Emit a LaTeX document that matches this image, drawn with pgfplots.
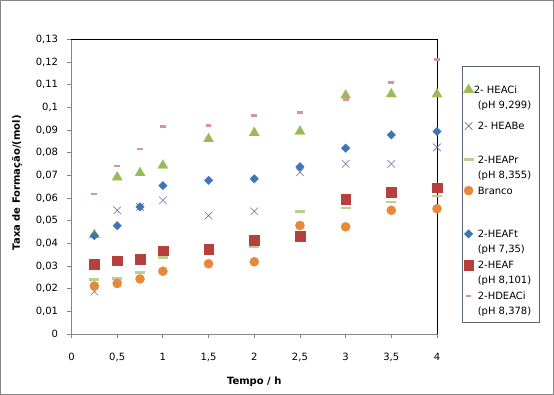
\documentclass[border=0pt]{standalone}
\usepackage{fontspec}
\setmainfont{DejaVu Sans}
\usepackage{pgfplots}
\pgfplotsset{compat=1.18}
\usepackage{pgfplotstable}
\definecolor{cHEACi}{RGB}{155,187,89}
\definecolor{cHEABe}{RGB}{128,100,162}
\definecolor{cHEAPr}{RGB}{184,208,146}
\definecolor{cBranco}{RGB}{232,137,58}
\definecolor{cHEAFt}{RGB}{64,116,184}
\definecolor{cHEAF}{RGB}{184,64,60}
\definecolor{cHDEACi}{RGB}{214,150,150}
\definecolor{axgray}{RGB}{134,134,134}
\definecolor{leggray}{RGB}{90,100,115}

\pgfplotstableread{
x HEACi HEABe HEAPr Branco HEAFt HEAF HDEACi
0.25 0.0438 0.0187 0.0242 0.0212 0.0434 0.0308 0.0618
0.5 0.0692 0.0546 0.0246 0.0223 0.0478 0.0324 0.0742
0.75 0.0711 0.0561 0.0273 0.0243 0.0561 0.0330 0.0817
1 0.0744 0.0590 0.0338 0.0277 0.0655 0.0369 0.0915
1.5 0.0861 0.0523 0.0370 0.0310 0.0678 0.0376 0.0920
2 0.0888 0.0542 0.0386 0.0319 0.0685 0.0416 0.0966
2.5 0.0894 0.0714 0.0539 0.0479 0.0738 0.0432 0.0977
3 0.1053 0.0751 0.0556 0.0473 0.0820 0.0597 0.1035
3.5 0.1059 0.0751 0.0583 0.0546 0.0879 0.0628 0.1109
4 0.1059 0.0824 0.0609 0.0553 0.0894 0.0647 0.1211
}\data

\newcommand{\LE}[1]{\begin{tabular}[t]{@{}p{60pt}@{}}#1\end{tabular}}

\begin{document}
\fontsize{10}{15.5}\selectfont
\begin{tikzpicture}
\begin{axis}[
  scale only axis, width=365.5pt, height=294.5pt,
  xmin=0, xmax=4, ymin=0, ymax=0.13,
  clip=false,
  xtick={0,0.5,1,1.5,2,2.5,3,3.5,4},
  ytick={0,0.01,0.02,0.03,0.04,0.05,0.06,0.07,0.08,0.09,0.1,0.11,0.12,0.13},
  scaled y ticks=false, scaled x ticks=false,
  tick align=outside, major tick length=4pt,
  xtick pos=left, ytick pos=left,
  axis line style={axgray, line width=0.8pt},
  tick style={axgray, line width=0.8pt},
  /pgf/number format/use comma,
  /pgf/number format/fixed,
  /pgf/number format/assume math mode=true,
  tick label style={font=\fontsize{10}{12}\selectfont},
  xticklabel style={yshift=-11.7pt},
  yticklabel style={xshift=-5.9pt},
  xlabel={Tempo / h}, ylabel={Taxa de Formação/(mol)},
  every axis x label/.style={at={(axis description cs:0.5,0)}, anchor=center, yshift=-47.7pt, font=\bfseries\fontsize{10}{12}\selectfont},
  every axis y label/.style={at={(axis description cs:0,0.5)}, anchor=center, rotate=90, yshift=54.5pt, xshift=4pt, font=\bfseries\fontsize{10}{12}\selectfont},
  legend style={at={(axis description cs:1,1)}, anchor=north west, xshift=24.5pt, yshift=-26.5pt,
    draw=leggray, line width=0.8pt, inner xsep=1.5pt, inner ysep=3pt,
    font=\fontsize{10}{15.5}\selectfont,
    cells={anchor=base west}, nodes={inner sep=0pt, text depth=}, column sep=4pt, row sep=0pt},
  every axis plot/.append style={only marks, legend image code/.code={\draw[##1] plot coordinates {(0pt,3.6pt)};}},
]
\draw[black, line width=0.8pt] (rel axis cs:0,1) -- (rel axis cs:1,1) -- (rel axis cs:1,0);
\addplot[mark=triangle*, mark size=6pt, mark options={fill=cHEACi, draw=cHEACi, line width=0.1pt}] table[x=x,y=HEACi]{\data};
\addlegendentry{\LE{\rule{0pt}{24pt}\hspace*{-4pt}2- HEACi\\(pH 9,299)\rule[-9.85pt]{0pt}{0pt}}}
\addplot[mark=x, mark size=5.3pt, mark options={draw=cHEABe, line width=0.6pt}] table[x=x,y=HEABe]{\data};
\addlegendentry{\LE{2- HEABe\rule[-22.75pt]{0pt}{0pt}}}
\addplot[mark=-, mark size=5pt, mark options={draw=cHEAPr, line width=2.8pt}] table[x=x,y=HEAPr]{\data};
\addlegendentry{\LE{2-HEAPr\\(pH 8,355)}}
\addplot[mark=*, mark size=4.7pt, mark options={fill=cBranco, draw=cBranco, line width=0.1pt}] table[x=x,y=Branco]{\data};
\addlegendentry{\LE{Branco\rule[-32.45pt]{0pt}{0pt}}}
\addplot[mark=square*, mark size=3.1pt, mark options={rotate=45, fill=cHEAFt, draw=cHEAFt, line width=0.1pt}] table[x=x,y=HEAFt]{\data};
\addlegendentry{\LE{2-HEAFt\\(pH 7,35)}}
\addplot[mark=square*, mark size=4.85pt, mark options={fill=cHEAF, draw=cHEAF, line width=0.1pt}] table[x=x,y=HEAF]{\data};
\addlegendentry{\LE{2-HEAF\\(pH 8,101)}}
\addplot[mark=-, mark size=2.9pt, mark options={draw=cHDEACi, line width=2.7pt}] table[x=x,y=HDEACi]{\data};
\addlegendentry{\LE{2-HDEACi\\(pH 8,378)}}
\end{axis}
\draw[axgray, line width=1pt] ([shift={(-71pt,-60.5pt)}]current axis.south west) rectangle ++(553pt,394pt);
\end{tikzpicture}
\end{document}
